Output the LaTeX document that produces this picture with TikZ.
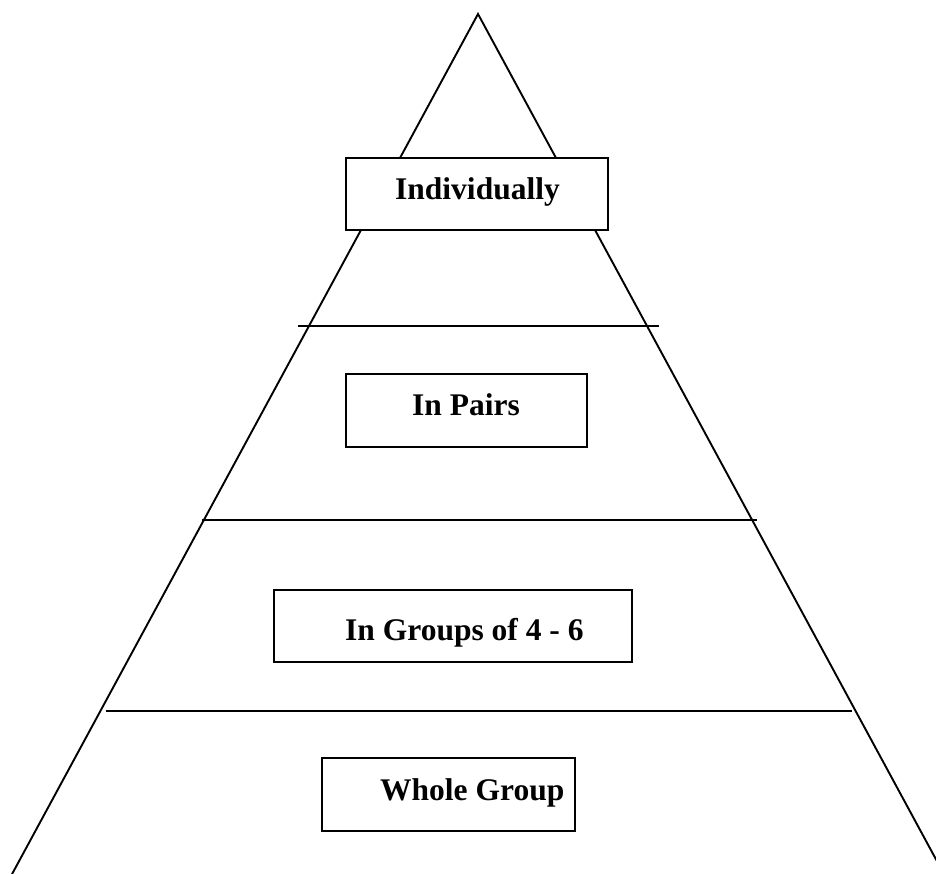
\documentclass[tikz,border=0pt]{standalone}
\usepackage{fontspec}
\setmainfont{Liberation Serif}
\begin{document}
\begin{tikzpicture}[x=1pt,y=-1pt,
  edge/.style={line width=1.9pt,black},
  levelbox/.style={draw=black,line width=1.9pt,fill=white,inner sep=0pt,minimum width=#1},
  lbl/.style={anchor=base west,inner sep=0pt,font=\bfseries\fontsize{31.5}{36}\selectfont}]
\useasboundingbox (0,0) rectangle (936,874);
\clip (0,0) rectangle (936,874);
% triangle
\coordinate (A) at (478,14);
\coordinate (BL) at (11,876);
\coordinate (BR) at (945,876);
\draw[edge] (BL) -- (A) -- (BR);
% dividers
\coordinate (L1a) at (298,326); \coordinate (L1b) at (659,326);
\coordinate (L2a) at (202,520); \coordinate (L2b) at (757,520);
\coordinate (L3a) at (106,711); \coordinate (L3b) at (852,711);
\draw[edge] (L1a) -- (L1b);
\draw[edge] (L2a) -- (L2b);
\draw[edge] (L3a) -- (L3b);
% boxes
\node[levelbox=262pt,minimum height=72pt] (b1) at (477,194) {};
\node[levelbox=241pt,minimum height=73pt] (b2) at (466.5,410.5) {};
\node[levelbox=358pt,minimum height=72pt] (b3) at (453,626) {};
\node[levelbox=253pt,minimum height=73pt] (b4) at (448.5,794.5) {};
% labels
\node[lbl] (t1) at (395,200) {Individually};
\node[lbl] (t2) at (412,415) {In Pairs};
\node[lbl] (t3) at (345,640) {In Groups of 4 - 6};
\node[lbl] (t4) at (380,800) {Whole Group};
\end{tikzpicture}
\end{document}
